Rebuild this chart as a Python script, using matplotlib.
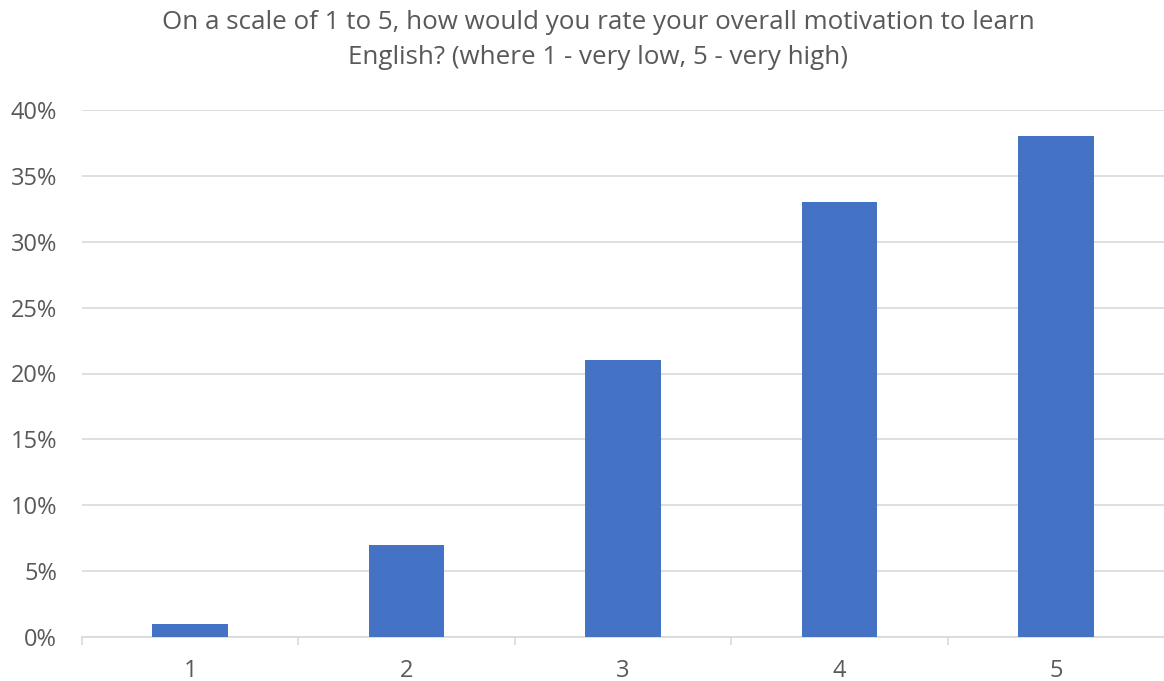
import matplotlib
matplotlib.use("Agg")
import matplotlib.pyplot as plt
from matplotlib.ticker import FixedLocator, FuncFormatter

categories = ["1", "2", "3", "4", "5"]
values = [1, 7, 21, 33, 38]
yticks = [0, 5, 10, 15, 20, 25, 30, 35, 40]
title = "On a scale of 1 to 5, how would you rate your overall motivation to learn\nEnglish? (where 1 - very low, 5 - very high)"

plt.rcParams['font.family'] = ['Open Sans', 'DejaVu Sans']
text_color = "#595959"
grid_color = "#D9D9D9"
bar_color = "#4472C4"

fig = plt.figure(figsize=(11.64, 6.81), dpi=100)
ax = fig.add_axes([82/1164, 44/681, (1164-82)/1164, (637-110)/681])

x = list(range(len(categories)))
ax.bar(x, values, width=0.35, color=bar_color, zorder=3)
ax.set_xlim(-0.5, len(categories) - 0.5)
ax.set_ylim(0, 40)

ax.set_yticks(yticks)
ax.yaxis.set_major_formatter(FuncFormatter(lambda v, p: f"{int(v)}%"))
ax.grid(axis='y', color=grid_color, linewidth=1.2, zorder=0)
ax.tick_params(axis='y', length=0, pad=18, labelsize=17, labelcolor=text_color)

ax.set_xticks(x)
ax.set_xticklabels(categories)
ax.tick_params(axis='x', which='major', length=0, pad=16, labelsize=17, labelcolor=text_color)
ax.xaxis.set_minor_locator(FixedLocator([i - 0.5 for i in range(len(categories))]))
ax.tick_params(axis='x', which='minor', length=6, width=1.2, color=grid_color)

for s in ['top', 'right', 'left']:
    ax.spines[s].set_visible(False)
ax.spines['bottom'].set_color(grid_color)
ax.spines['bottom'].set_linewidth(1.2)

fig.text(598/1164, 1 - 40/681, title, ha='center', va='center', fontsize=18.7,
         color=text_color, linespacing=1.5)

fig.savefig("out.png", dpi=100, facecolor='white')
